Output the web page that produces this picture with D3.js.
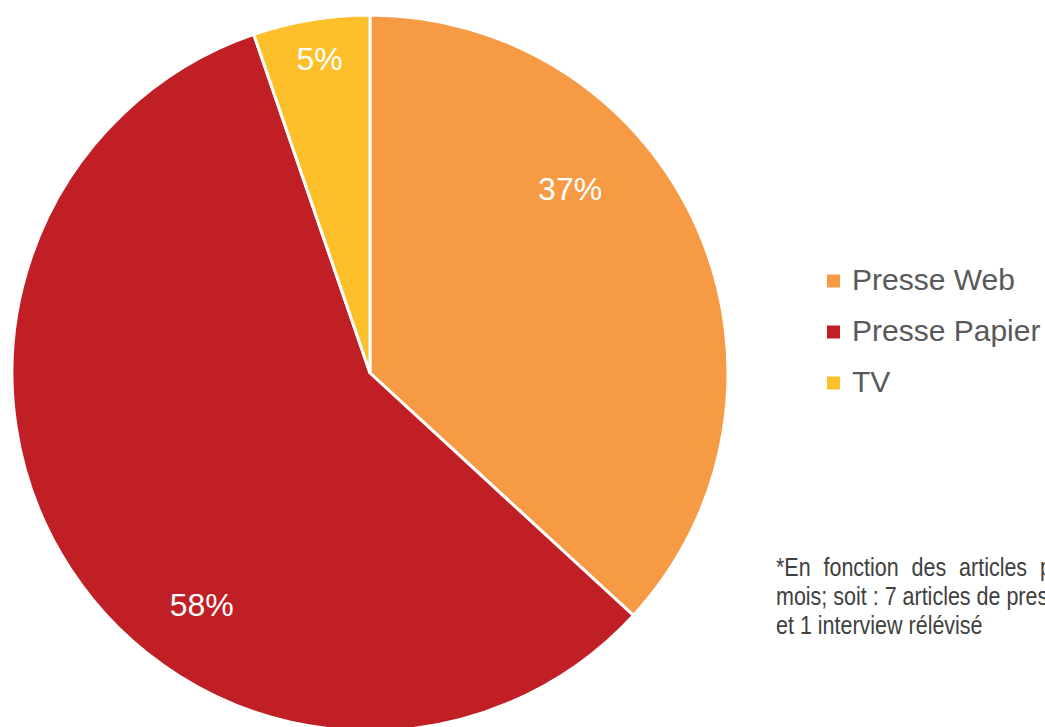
<!DOCTYPE html>
<html>
<head>
    <meta charset="utf-8">
    <title>Répartition des articles</title>
    <style>
        body { margin: 0; background: #fff; }
        #chart { width: 1045px; height: 727px; overflow: hidden; }
        .slice { stroke: #fff; stroke-width: 3; }
        .pct { font-family: "Liberation Sans", Arial, sans-serif; font-size: 32px; fill: #fff; text-anchor: middle; }
        .legend-text { font-family: "Liberation Sans", Arial, sans-serif; font-size: 30px; fill: #595959; }
        .note { font-family: "Liberation Sans Narrow", "Arial Narrow", "Liberation Sans", sans-serif; font-size: 25px; fill: #404040; }
    </style>
</head>
<body>
    <div id="chart"></div>

    <script src="https://d3js.org/d3.v7.min.js"></script>
    <script>
        // données (nombre d'articles par mois)
        var categories = ["Presse Web", "Presse Papier", "TV"];
        var counts = [7, 11, 1];
        var pctLabels = ["37%", "58%", "5%"];
        var colors = ["#F79A44", "#C11F26", "#FDBF2A"];
        var noteLines = [
            "*En fonction des articles parus",
            "mois; soit : 7 articles de presse web,",
            "et 1 interview rélévisé"
        ];

        // position des étiquettes dans chaque part : [fraction d'angle, fraction du rayon]
        var labelAt = [[0.357, 0.76], [0.40, 0.80], [0.52, 0.89]];

        var width = 1045, height = 727;
        var cx = 370, cy = 373, radius = 358;

        var svg = d3.select("#chart").append("svg")
            .attr("width", width)
            .attr("height", height);

        var pie = d3.pie().sort(null).value(function (d) { return d; });
        var arcs = pie(counts);

        var arc = d3.arc().innerRadius(0).outerRadius(radius);

        var g = svg.append("g").attr("transform", "translate(" + cx + "," + cy + ")");

        g.selectAll(".slice")
            .data(arcs)
            .enter().append("path")
            .attr("class", "slice")
            .attr("d", arc)
            .attr("fill", function (d, i) { return colors[i]; });

        g.selectAll(".pct")
            .data(arcs)
            .enter().append("text")
            .attr("class", "pct")
            .attr("transform", function (d, i) {
                var a = d.startAngle + (d.endAngle - d.startAngle) * labelAt[i][0];
                var r = radius * labelAt[i][1];
                return "translate(" + (Math.sin(a) * r) + "," + (-Math.cos(a) * r) + ")";
            })
            .attr("dy", "0.36em")
            .text(function (d, i) { return pctLabels[i]; });

        // légende
        var legend = svg.append("g").attr("transform", "translate(827,281)");
        var item = legend.selectAll("g")
            .data(categories)
            .enter().append("g")
            .attr("transform", function (d, i) { return "translate(0," + (i * 51) + ")"; });

        item.append("rect")
            .attr("x", 0).attr("y", -6.5)
            .attr("width", 13).attr("height", 13)
            .attr("fill", function (d, i) { return colors[i]; });

        item.append("text")
            .attr("class", "legend-text")
            .attr("x", 25)
            .attr("y", 9)
            .text(function (d) { return d; });

        // note (police condensée)
        svg.append("g")
            .attr("transform", "translate(776,0) scale(0.86,1)")
            .selectAll("text")
            .data(noteLines)
            .enter().append("text")
            .attr("class", "note")
            .attr("x", 0)
            .attr("y", function (d, i) { return 576 + i * 29; })
            .attr("word-spacing", function (d, i) { return i === 0 ? "8px" : "0px"; })
            .text(function (d) { return d; });
    </script>
</body>
</html>
